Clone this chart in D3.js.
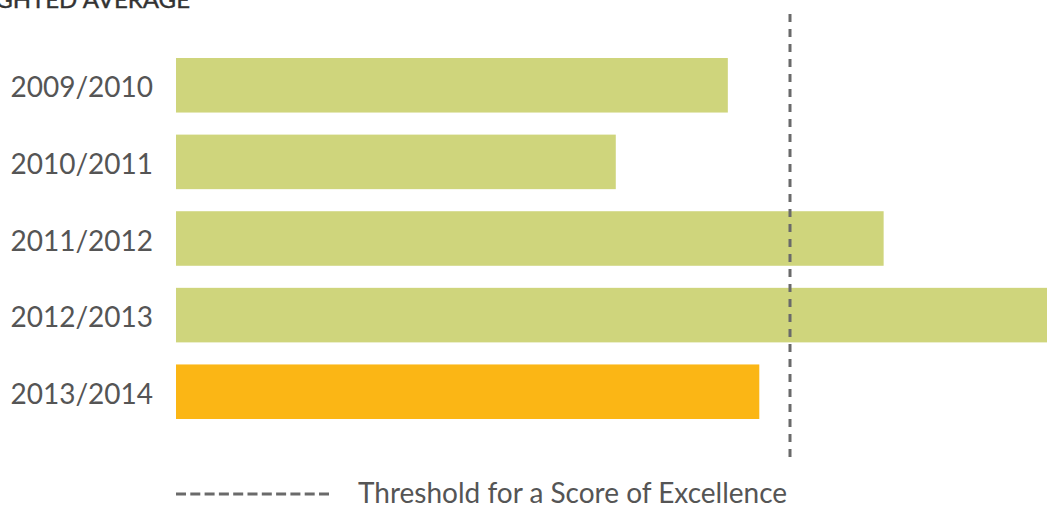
<!DOCTYPE html>
<html>
<head>
<meta charset="utf-8">
<script src="https://cdn.jsdelivr.net/npm/d3@7"></script>
<style>
  html, body { margin: 0; padding: 0; background: #fff; }
  svg { display: block; }
  text { font-family: Lato, "Open Sans", sans-serif; }
</style>
</head>
<body>
<svg id="chart" width="1047" height="506"></svg>
<script>
// Weighted average score per academic year
const years = ["2009/2010", "2010/2011", "2011/2012", "2012/2013", "2013/2014"];
const scores = [71.9, 57.3, 92.2, 115.0, 76.0];
const currentYear = "2013/2014";
const threshold = 80;
const titleText = "WEIGHTED AVERAGE";
const legendText = "Threshold for a Score of Excellence";

const svg = d3.select("#chart");

const x = d3.scaleLinear().domain([0, 80]).range([176, 790]);
const y = d3.scaleBand().domain(years).range([58, 419]).paddingInner(0.288).paddingOuter(0);

// Title (runs off the top-left edge)
svg.append("text")
  .attr("x", 190).attr("y", 8)
  .attr("text-anchor", "end")
  .attr("font-size", 24)
  .attr("font-weight", 400)
  .attr("fill", "#333")
  .attr("stroke", "#333")
  .attr("stroke-width", 0.4)
  .text(titleText);

// Bars
svg.append("g").selectAll("rect")
  .data(years)
  .join("rect")
  .attr("x", x(0))
  .attr("y", d => y(d))
  .attr("width", (d, i) => x(scores[i]) - x(0))
  .attr("height", y.bandwidth())
  .attr("fill", d => d === currentYear ? "#fbb615" : "#cfd57c");

// Category labels
const yAxis = d3.axisLeft(y).tickSize(0).tickPadding(0);
const gy = svg.append("g").attr("transform", "translate(153,0)").call(yAxis);
gy.select(".domain").remove();
gy.selectAll("text")
  .attr("font-size", 28)
  .attr("fill", "#555")
  .attr("dy", "0.43em")
  .style("font-family", "Lato, 'Open Sans', sans-serif");

// Threshold line
svg.append("line")
  .attr("x1", x(threshold)).attr("x2", x(threshold))
  .attr("y1", 14).attr("y2", 461)
  .attr("stroke", "#6a6a6a")
  .attr("stroke-width", 3)
  .attr("stroke-dasharray", "8,7");

// Legend
svg.append("line")
  .attr("x1", 176).attr("x2", 332)
  .attr("y1", 494).attr("y2", 494)
  .attr("stroke", "#6a6a6a")
  .attr("stroke-width", 3)
  .attr("stroke-dasharray", "10,4.3");

svg.append("text")
  .attr("x", 358).attr("y", 503)
  .attr("font-size", 28)
  .attr("fill", "#555")
  .text(legendText);
</script>
</body>
</html>
